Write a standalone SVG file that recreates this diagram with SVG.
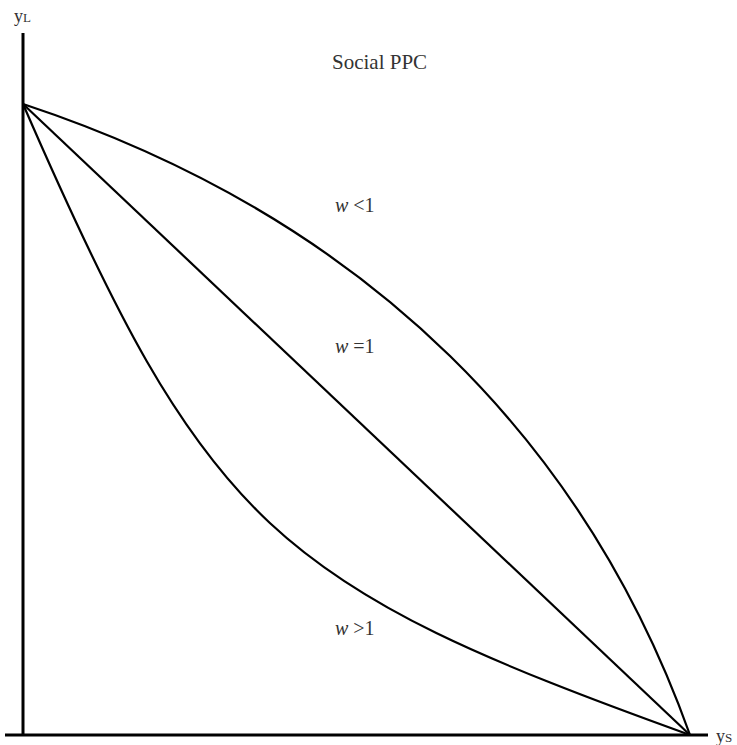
<svg xmlns="http://www.w3.org/2000/svg" width="737" height="745" viewBox="0 0 737 745">
<style>
.ax{stroke:#000;stroke-width:3;fill:none}
.cv{stroke:#000;stroke-width:2.2;fill:none;stroke-linejoin:round}
.t{font-family:"Liberation Serif","Times New Roman",serif;fill:#333}
.lab{font-family:"Liberation Serif","Times New Roman",serif;fill:#333;font-size:20px}
</style>
<rect width="737" height="745" fill="#fff"/>
<g id="axes">
<line class="ax" x1="23" y1="33" x2="23" y2="735"/>
<line class="ax" x1="5" y1="735" x2="708" y2="735"/>
</g>
<g id="connectors">
<path id="curve-w-lt-1" class="cv" d="M23,104 C374.3,220 588.1,449.7 690,735"/>
<path id="line-w-eq-1" class="cv" d="M23,104 L690,735"/>
<path id="curve-w-gt-1" class="cv" d="M23,104 C208,530 274,585 690,735"/>
</g>
<g id="label-yL"><text class="t" x="14" y="22" font-size="18">y<tspan font-size="13">L</tspan></text></g>
<g id="label-yS"><text class="t" x="716" y="742" font-size="18">y<tspan font-size="13">S</tspan></text></g>
<g id="title"><text class="t" x="332" y="69" font-size="21">Social PPC</text></g>
<g id="label-lt"><text class="lab" x="335" y="212"><tspan font-style="italic">w</tspan> &lt;1</text></g>
<g id="label-eq"><text class="lab" x="335" y="353"><tspan font-style="italic">w</tspan> =1</text></g>
<g id="label-gt"><text class="lab" x="335" y="635"><tspan font-style="italic">w</tspan> &gt;1</text></g>
</svg>
